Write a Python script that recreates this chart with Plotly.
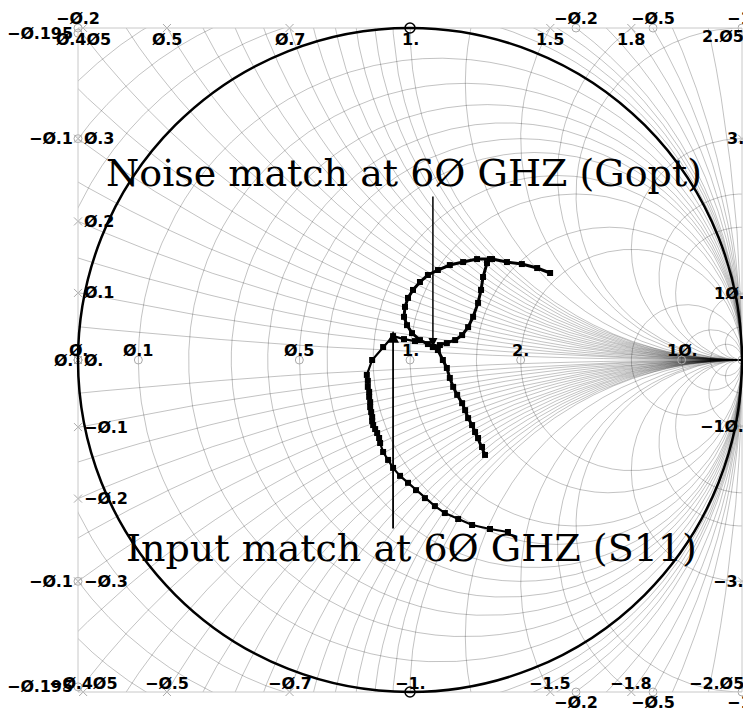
import numpy as np
import plotly.graph_objects as go

# ---------------- data (reflection coefficient, real / imaginary) ----------------
# Gopt (noise match) sweep: top-right end -> loop -> crossing -> lower tail
gopt_re = [0.422, 0.383, 0.337, 0.292, 0.247, 0.202, 0.160, 0.120, 0.084, 0.054,
           0.030, 0.009, -0.006, -0.015, -0.018, -0.009, 0.006, 0.030, 0.054, 0.069,
           0.084, 0.099, 0.111, 0.120, 0.130, 0.142, 0.157, 0.166, 0.175, 0.187,
           0.196, 0.205, 0.217, 0.226]
gopt_im = [0.262, 0.277, 0.289, 0.295, 0.304, 0.304, 0.295, 0.286, 0.271, 0.256,
           0.235, 0.211, 0.187, 0.160, 0.130, 0.105, 0.081, 0.060, 0.048, 0.039,
           0.030, 0.000, -0.024, -0.054, -0.081, -0.105, -0.130, -0.151, -0.175, -0.196,
           -0.217, -0.235, -0.262, -0.286]
# Gopt branch: crossing -> right side of the loop -> top
gopt_branch_re = [0.069, 0.090, 0.111, 0.136, 0.157, 0.175, 0.190, 0.205, 0.214, 0.220, 0.232, 0.241]
gopt_branch_im = [0.039, 0.045, 0.051, 0.060, 0.075, 0.099, 0.130, 0.172, 0.211, 0.250, 0.292, 0.304]

# S11 (input match) sweep
s11_re = [0.015, -0.018, -0.051, -0.081, -0.114, -0.130, -0.127, -0.127, -0.123, -0.123,
          -0.120, -0.120, -0.117, -0.114, -0.114, -0.111, -0.105, -0.099, -0.093, -0.090,
          -0.081, -0.066, -0.051, -0.030, -0.006, 0.018, 0.045, 0.075, 0.105, 0.145,
          0.187, 0.241, 0.295]
s11_im = [0.057, 0.063, 0.072, 0.039, 0.000, -0.045, -0.063, -0.081, -0.096, -0.111,
          -0.127, -0.142, -0.157, -0.172, -0.184, -0.196, -0.208, -0.220, -0.235, -0.250,
          -0.277, -0.301, -0.325, -0.349, -0.370, -0.392, -0.416, -0.440, -0.461, -0.479,
          -0.497, -0.509, -0.518]

# Smith chart grid values
r_grid = [0.1, 0.2, 0.3, 0.4, 0.5, 0.6, 0.8, 1.0, 1.5, 2.0, 5.0, 10.0, 20.0,
          -0.05, -0.1, -0.15, -0.2, -0.3, -0.4, -0.5, -0.6, -0.8]
x_grid_pos = [0.05, 0.1, 0.15, 0.2, 0.25, 0.3, 0.35, 0.4, 0.45, 0.5, 0.55, 0.6, 0.65, 0.7,
              0.75, 0.8, 0.85, 0.9, 0.95, 1.0, 1.2, 1.5, 1.8, 2.0, 3.0, 4.0, 5.0, 10.0, 20.0]
x_grid = x_grid_pos + [-v for v in x_grid_pos]

# tick labels
top_x_ticks = [0.405, 0.5, 0.7, 1.0, 1.5, 1.8]
bottom_x_ticks = [-0.405, -0.5, -0.7, -1.0, -1.5, -1.8]
right_x_ticks = [2.05, 3.0, 10.0, -10.0, -3.0, -2.05]
left_x_ticks = [0.3, 0.2, 0.1, 0.0, -0.1, -0.2, -0.3]
left_r_ticks = [-0.195, -0.1, 0.0, -0.1, -0.195]
left_r_sides = [1, 1, 0, -1, -1]
top_r_ticks = [-0.2, -0.2, -0.5, -1.0]
top_r_sides = [-1, 1, 1, 1]
bottom_r_ticks = [-0.2, -0.5, -1.0]
bottom_r_sides = [1, 1, 1]
axis_r_ticks = [0.0, 0.1, 0.5, 1.0, 2.0, 10.0]

noise_title = "Noise match at 6Ø GHZ (Gopt)"
input_title = "Input match at 6Ø GHZ (S11)"


def fmt(v):
    if abs(v - round(v)) < 1e-9:
        s = f"{int(round(v))}."
    else:
        s = f"{v:g}"
    return s.replace("0", "Ø").replace("-", "\u2212")


# ---------------- grid curves through the Smith transform ----------------
phi = np.linspace(-np.pi / 2 + 1e-5, np.pi / 2 - 1e-5, 6001)
t = np.tan(phi)
gx, gy = [], []


def add_curve(z):
    g = (z - 1) / (z + 1)
    u, v = g.real.copy(), g.imag.copy()
    bad = (np.abs(u) > 1.05) | (np.abs(v) > 1.05)
    u[bad] = np.nan
    v[bad] = np.nan
    for a, b in zip(u, v):
        if np.isnan(a):
            if gx and gx[-1] is not None:
                gx.append(None)
                gy.append(None)
        else:
            gx.append(float(a))
            gy.append(float(b))
    if gx and gx[-1] is not None:
        gx.append(None)
        gy.append(None)


for r in r_grid:
    add_curve(r + 1j * t)
for xv in x_grid:
    add_curve(t + 1j * xv)

fig = go.Figure()
fig.add_trace(go.Scatter(x=gx, y=gy, mode="lines", line=dict(color="rgba(0,0,0,0.24)", width=1),
                         hoverinfo="skip", connectgaps=False))

# ---------------- labels on the frame ----------------
annotations = []
grey_x_marks, grey_o_marks, black_o_marks = [], [], []
lab_font = dict(family="DejaVu Sans", size=16, color="black", weight="bold")


def add_label(u, v, text, xa="center", ya="middle", xs=0, ys=0):
    annotations.append(dict(x=u, y=v, xref="x", yref="y", text=text, showarrow=False,
                            xanchor=xa, yanchor=ya, xshift=xs, yshift=ys, font=lab_font))


for xv in top_x_ticks:
    u = 1 - np.sqrt(2 / xv - 1)
    add_label(u, 1, fmt(xv), ys=-11)
    (black_o_marks if xv == 1.0 else grey_x_marks).append((u, 1))
for xv in bottom_x_ticks:
    u = 1 - np.sqrt(2 / abs(xv) - 1)
    add_label(u, -1, fmt(xv), ys=9)
    (black_o_marks if xv == -1.0 else grey_x_marks).append((u, -1))
for xv in right_x_ticks:
    v = 2 / xv
    add_label(1, v, fmt(xv), xa="right", xs=4)
    grey_x_marks.append((1, v))
for xv in left_x_ticks:
    v = 0.0 if xv == 0 else (1 - np.sqrt(1 - 4 * xv * xv)) / xv
    add_label(-1, v, fmt(xv), xa="left", xs=4)
    grey_x_marks.append((-1, v))
for r, sd in zip(left_r_ticks, left_r_sides):
    v = sd * np.sqrt(-4 * r / (1 + r))
    add_label(-1, v, fmt(r), xa="right", xs=-3)
    grey_o_marks.append((-1, v))


def edge_r_u(r, sd):
    if abs(1 + r) < 1e-9:
        return 1.0
    c = r / (1 + r)
    R = 1 / abs(1 + r)
    return c + sd * np.sqrt(R * R - 1)


for r, sd in zip(top_r_ticks, top_r_sides):
    u = edge_r_u(r, sd)
    add_label(u, 1, fmt(r), ys=10)
    grey_o_marks.append((u, 1))
for r, sd in zip(bottom_r_ticks, bottom_r_sides):
    u = edge_r_u(r, sd)
    add_label(u, -1, fmt(r), ys=-10)
    grey_o_marks.append((u, -1))
for r in axis_r_ticks:
    u = (r - 1) / (r + 1)
    add_label(u, 0, fmt(r), ys=10)
    grey_o_marks.append((u, 0))
grey_o_marks.append((1, 0))

fig.add_trace(go.Scatter(x=[p[0] for p in grey_x_marks], y=[p[1] for p in grey_x_marks], mode="markers",
                         marker=dict(symbol="x-thin-open", size=8, color="#aaaaaa",
                                     line=dict(color="#aaaaaa", width=1)),
                         cliponaxis=False, hoverinfo="skip"))
fig.add_trace(go.Scatter(x=[p[0] for p in grey_o_marks], y=[p[1] for p in grey_o_marks], mode="markers",
                         marker=dict(symbol="circle-open", size=8, color="#aaaaaa", line=dict(width=1)),
                         cliponaxis=False, hoverinfo="skip"))
fig.add_trace(go.Scatter(x=[p[0] for p in black_o_marks], y=[p[1] for p in black_o_marks], mode="markers",
                         marker=dict(symbol="circle-open", size=10, color="black", line=dict(width=1.5)),
                         cliponaxis=False, hoverinfo="skip"))

# ---------------- data traces ----------------
mk = dict(symbol="square", size=6, color="black")
fig.add_trace(go.Scatter(x=gopt_re, y=gopt_im, mode="lines+markers", line=dict(color="black", width=3),
                         marker=mk, name="Gopt"))
fig.add_trace(go.Scatter(x=gopt_branch_re, y=gopt_branch_im, mode="lines+markers",
                         line=dict(color="black", width=3), marker=mk, name="Gopt"))
fig.add_trace(go.Scatter(x=s11_re, y=s11_im, mode="lines+markers", line=dict(color="black", width=2.2),
                         marker=mk, name="S11"))

# ---------------- titles and arrows ----------------
title_font = dict(family="DejaVu Serif", size=38, color="black")
annotations.append(dict(x=-0.018, y=0.563, xref="x", yref="y", text=noise_title, showarrow=False,
                        font=title_font, xanchor="center", yanchor="middle"))
annotations.append(dict(x=0.006, y=-0.566, xref="x", yref="y", text=input_title, showarrow=False,
                        font=title_font, xanchor="center", yanchor="middle"))
annotations.append(dict(x=gopt_re[19], y=gopt_im[19], ax=gopt_re[19], ay=0.497, xref="x", yref="y",
                        axref="x", ayref="y", text="", showarrow=True, arrowhead=2, arrowsize=1.2,
                        arrowwidth=1.5, arrowcolor="black"))
annotations.append(dict(x=s11_re[2], y=s11_im[2] + 0.015, ax=s11_re[2], ay=-0.512, xref="x", yref="y",
                        axref="x", ayref="y", text="", showarrow=True, arrowhead=2, arrowsize=1.3,
                        arrowwidth=1.8, arrowcolor="black"))

shapes = [
    dict(type="rect", xref="paper", yref="paper", x0=0, x1=1, y0=0, y1=1,
         line=dict(color="#c8c8c8", width=1), layer="above"),
    dict(type="circle", xref="paper", yref="paper", x0=0, x1=1, y0=0, y1=1,
         line=dict(color="black", width=2.5), layer="above"),
]

# the page adds an 8px body margin, so the plot area is shifted back by 8px
fig.update_layout(
    width=751, height=712,
    margin=dict(l=70, r=17, t=20, b=28),
    paper_bgcolor="white", plot_bgcolor="white",
    showlegend=False,
    xaxis=dict(range=[-1, 1], visible=False, fixedrange=True),
    yaxis=dict(range=[-1, 1], visible=False, fixedrange=True),
    annotations=annotations,
    shapes=shapes,
)

fig.write_html("out.html")
